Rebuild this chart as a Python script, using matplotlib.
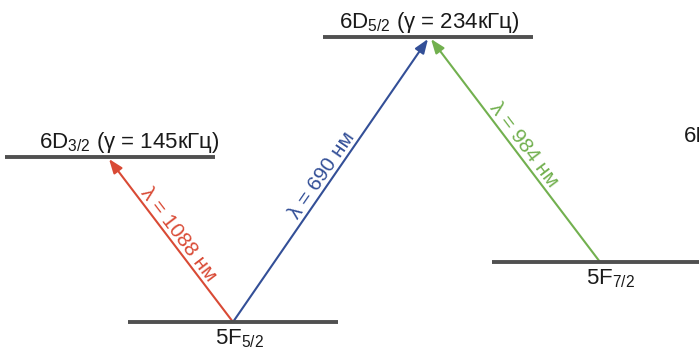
import math

import matplotlib.pyplot as plt
from matplotlib.patches import FancyArrowPatch

plt.rcParams["font.family"] = ["Liberation Sans", "DejaVu Sans"]
plt.rcParams["mathtext.fontset"] = "custom"
plt.rcParams["mathtext.rm"] = "Liberation Sans"
plt.rcParams["mathtext.it"] = "Liberation Sans"

# energy levels (diagram units: x = horizontal span, y = height, top = 0)
level_names = ["6D_{3/2}", "6D_{5/2}", "5F_{5/2}", "5F_{7/2}"]
level_x0 = [5, 323, 128, 492]
level_x1 = [215, 533, 338, 705]
level_y = [157, 37, 322, 262]
level_widths = ["145кГц", "234кГц", None, None]
label_x = [129, 429, 240, 611]

# transitions: (from level, to level, x start, x end, wavelength nm, colour)
trans_from = [2, 2, 3]
trans_to = [0, 1, 1]
trans_x0 = [233, 233, 600]
trans_x1 = [109, 428, 431]
trans_nm = [1088, 690, 984]
trans_colors = ["#d94a35", "#334f97", "#72b04f"]

LEVEL_COLOR = "#505050"
TEXT_COLOR = "#1a1a1a"

fig = plt.figure(figsize=(6.99, 3.53), dpi=100)
ax = fig.add_axes([0, 0, 1, 1])
ax.set_xlim(0, 699)
ax.set_ylim(353, 0)
ax.axis("off")

for name, x0, x1, y, w, lx in zip(level_names, level_x0, level_x1, level_y, level_widths, label_x):
    ax.plot([x0, x1], [y, y], color=LEVEL_COLOR, lw=2.8, solid_capstyle="butt")
    base, sub = name.split("_")
    label = base + r"$\mathregular{_{" + sub.strip("{}") + "}}$"
    if w is not None:
        ax.text(lx, y - 9, label + f" (γ = {w})", ha="center", va="baseline",
                fontsize=16, color=TEXT_COLOR)
    else:
        ax.text(lx, y + 22, label, ha="center", va="baseline",
                fontsize=16, color=TEXT_COLOR)

# label cut off at the right edge, as in the source figure
ax.text(684, 142, "6D", ha="left", va="baseline", fontsize=16, color=TEXT_COLOR,
        clip_on=True)

for f, t, x0, x1, nm, c in zip(trans_from, trans_to, trans_x0, trans_x1, trans_nm, trans_colors):
    y0, y1 = level_y[f], level_y[t] + 2
    arr = FancyArrowPatch((x0, y0), (x1, y1), arrowstyle="-|>,head_length=0.85,head_width=0.32",
                          color=c, lw=1.5, shrinkA=0, shrinkB=0, mutation_scale=10)
    ax.add_patch(arr)
    # label along the arrow, on its upper side
    p0 = ax.transData.transform((x0, y0))
    p1 = ax.transData.transform((x1, y1))
    dx, dy = p1[0] - p0[0], p1[1] - p0[1]
    ang = math.degrees(math.atan2(dy, dx))
    if ang > 90:
        ang -= 180
    L = math.hypot(dx, dy)
    nx, ny = -dy / L, dx / L
    if ny < 0:
        nx, ny = -nx, -ny
    mx, my = (x0 + x1) / 2, (y0 + y1) / 2
    ax.annotate(f"λ = {nm} нм", (mx, my), xytext=(nx * 10, ny * 10),
                textcoords="offset pixels", rotation=ang, rotation_mode="anchor",
                ha="center", va="center", fontsize=15, color=c)

fig.savefig("out.png", dpi=100)
